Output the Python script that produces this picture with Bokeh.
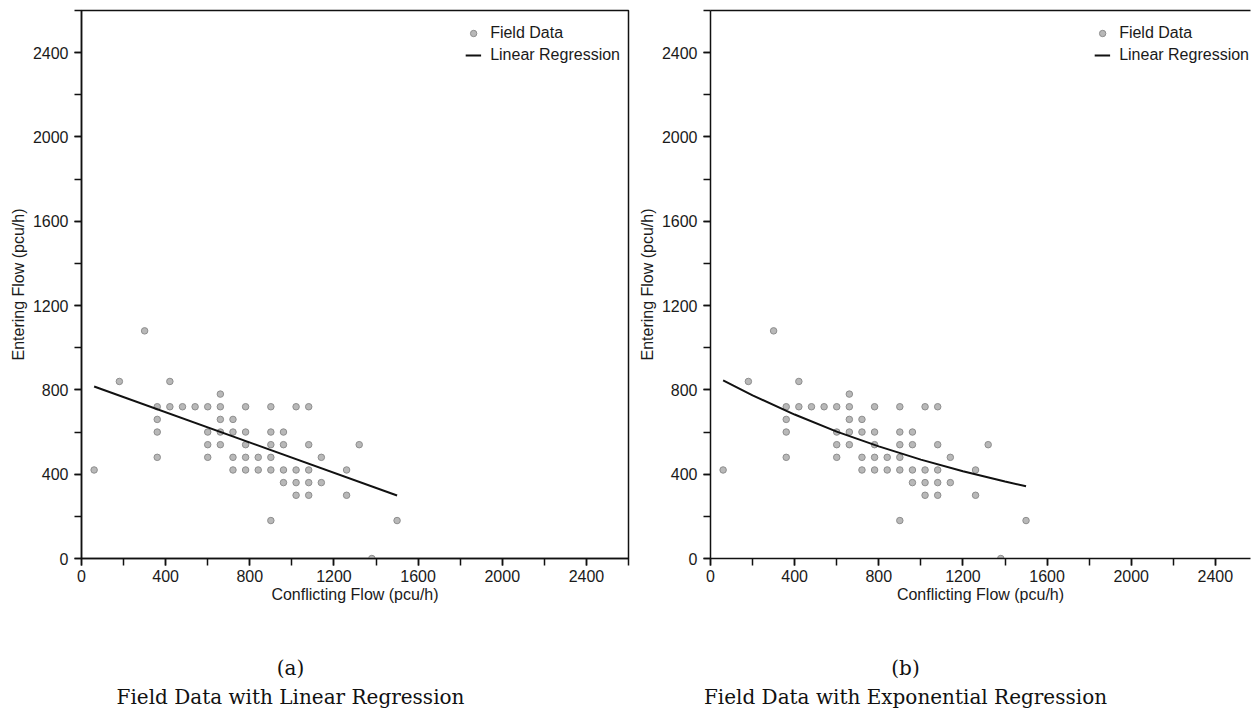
from bokeh.plotting import figure
from bokeh.models import (Range1d, SingleIntervalTicker, FixedTicker, LinearAxis,
                          Legend, LegendItem)
from bokeh.layouts import row, column
from bokeh.embed import file_html
from bokeh.resources import INLINE
from bokeh.core.properties import value

# Field data (conflicting flow, entering flow), pcu/h
field_x = [60, 180, 300, 420, 660,
           360, 420, 480, 540, 600, 660, 780, 900, 1020, 1080,
           360, 660, 720,
           360, 600, 660, 720, 780, 900, 960,
           600, 660, 780, 900, 960, 1080, 1320,
           360, 600, 720, 780, 840, 900, 1140,
           720, 780, 840, 900, 960, 1020, 1080, 1260,
           960, 1020, 1080, 1140,
           1020, 1080, 1260,
           900, 1500,
           1380]
field_y = [420, 840, 1080, 840, 780,
           720, 720, 720, 720, 720, 720, 720, 720, 720, 720,
           660, 660, 660,
           600, 600, 600, 600, 600, 600, 600,
           540, 540, 540, 540, 540, 540, 540,
           480, 480, 480, 480, 480, 480, 480,
           420, 420, 420, 420, 420, 420, 420, 420,
           360, 360, 360, 360,
           300, 300, 300,
           180, 180,
           0]

# Regression lines
lin_x = [60, 1500]
lin_y = [816, 299]
exp_x = [60, 200, 400, 600, 800, 1000, 1200, 1400, 1500]
exp_y = [845, 774, 683, 602, 532, 469, 414, 365, 343]

panel_letters = ["(a)", "(b)"]
panel_titles = ["Field Data with Linear Regression", "Field Data with Exponential Regression"]
legend_labels = ["Field Data", "Linear Regression"]
x_title = "Conflicting Flow (pcu/h)"
y_title = "Entering Flow (pcu/h)"
tick_step = 400
y_max = 2600

SANS = "Liberation Sans"
SERIF = "DejaVu Serif"
INK = "#111111"

FIG_H = 608
FRAME_H = 548


def make_panel(line_x, line_y, x_end, fig_w, border_left, frame_w, is_left,
               legend_margin, legend_pad_font):
    p = figure(width=fig_w, height=FIG_H,
               x_range=Range1d(0, x_end), y_range=Range1d(0, y_max),
               output_backend="svg", toolbar_location=None,
               min_border_left=border_left, min_border_right=fig_w - border_left - frame_w,
               min_border_top=10, min_border_bottom=FIG_H - 10 - FRAME_H)
    p.xgrid.visible = False
    p.ygrid.visible = False
    p.background_fill_color = "white"
    p.border_fill_color = "white"

    xa = p.below[0]
    ya = p.left[0]
    for ax in (xa, ya):
        ax.ticker = SingleIntervalTicker(interval=tick_step, num_minor_ticks=2)
        ax.major_tick_in = 0
        ax.major_tick_out = 7
        ax.minor_tick_in = 0
        ax.minor_tick_out = 7
        ax.axis_line_width = 1.5
        ax.axis_line_color = INK
        ax.major_tick_line_width = 1.5
        ax.minor_tick_line_width = 1.5
        ax.major_tick_line_color = INK
        ax.minor_tick_line_color = INK
        ax.major_label_text_font = SANS
        ax.major_label_text_font_size = "16px"
        ax.major_label_text_color = "#1a1a1a"
        ax.axis_label_text_font = SANS
        ax.axis_label_text_font_size = "16px"
        ax.axis_label_text_font_style = "normal"
        ax.axis_label_text_color = "#1a1a1a"
    xa.axis_label = x_title
    ya.axis_label = y_title
    xa.major_label_standoff = 4
    xa.axis_label_standoff = 1
    ya.major_label_standoff = 6
    ya.axis_label_standoff = 3

    if is_left:
        p.outline_line_color = INK
        p.outline_line_width = 1.5
        p.outline_line_alpha = 1
    else:
        p.outline_line_color = None
        top = LinearAxis(ticker=FixedTicker(ticks=[]), axis_line_color=INK, axis_line_width=1.5,
                         major_tick_out=0, major_tick_in=0, minor_tick_out=0, minor_tick_in=0,
                         major_label_standoff=0, major_label_text_font_size="0px",
                         axis_label=None)
        p.add_layout(top, "above")

    sc = p.scatter(field_x, field_y, size=6.5, marker="circle",
                   fill_color="#b8b8b8", line_color="#8e8e8e", line_width=1)
    ln = p.line(line_x, line_y, line_color=INK, line_width=2)

    legend = Legend(items=[LegendItem(label=legend_labels[0], renderers=[sc]),
                           LegendItem(label=legend_labels[1], renderers=[ln])],
                    location="top_right")
    legend.margin = legend_margin
    legend.padding = 7
    legend.spacing = 4
    legend.glyph_width = 16
    legend.glyph_height = 18
    legend.label_height = 18
    legend.label_standoff = 9
    legend.label_text_font = SANS
    legend.label_text_font_size = "16px"
    legend.label_text_color = "#1a1a1a"
    legend.border_line_color = None
    legend.background_fill_alpha = 0
    # blank title only used as vertical spacer above the entries
    legend.title = " "
    legend.title_text_font_size = legend_pad_font
    legend.title_standoff = 1
    p.add_layout(legend)
    return p


p1 = make_panel(lin_x, lin_y, x_end=2600, fig_w=634, border_left=81, frame_w=547,
                is_left=True, legend_margin=8, legend_pad_font="4px")
p2 = make_panel(exp_x, exp_y, x_end=2567, fig_w=618, border_left=76, frame_w=540,
                is_left=False, legend_margin=1, legend_pad_font="11px")

# Caption strip under the two panels
CAP_W, CAP_H = 1252, 108
cap = figure(width=CAP_W, height=CAP_H, x_range=Range1d(0, CAP_W), y_range=Range1d(0, CAP_H),
             output_backend="svg", toolbar_location=None, x_axis_type=None, y_axis_type=None,
             min_border=0)
cap.outline_line_color = None
cap.xgrid.visible = False
cap.ygrid.visible = False
cap_centers = [290, 905]
cap.text(x=cap_centers, y=[49, 49], text=panel_letters, text_align="center",
         text_baseline="middle", text_font=value(SERIF), text_font_size="20px", text_color=INK)
cap.text(x=cap_centers, y=[20, 20], text=panel_titles, text_align="center",
         text_baseline="middle", text_font=value(SERIF), text_font_size="20px", text_color=INK)

layout = column(row(p1, p2, spacing=0), cap, spacing=0)
open("out.html", "w").write(file_html(layout, INLINE))
